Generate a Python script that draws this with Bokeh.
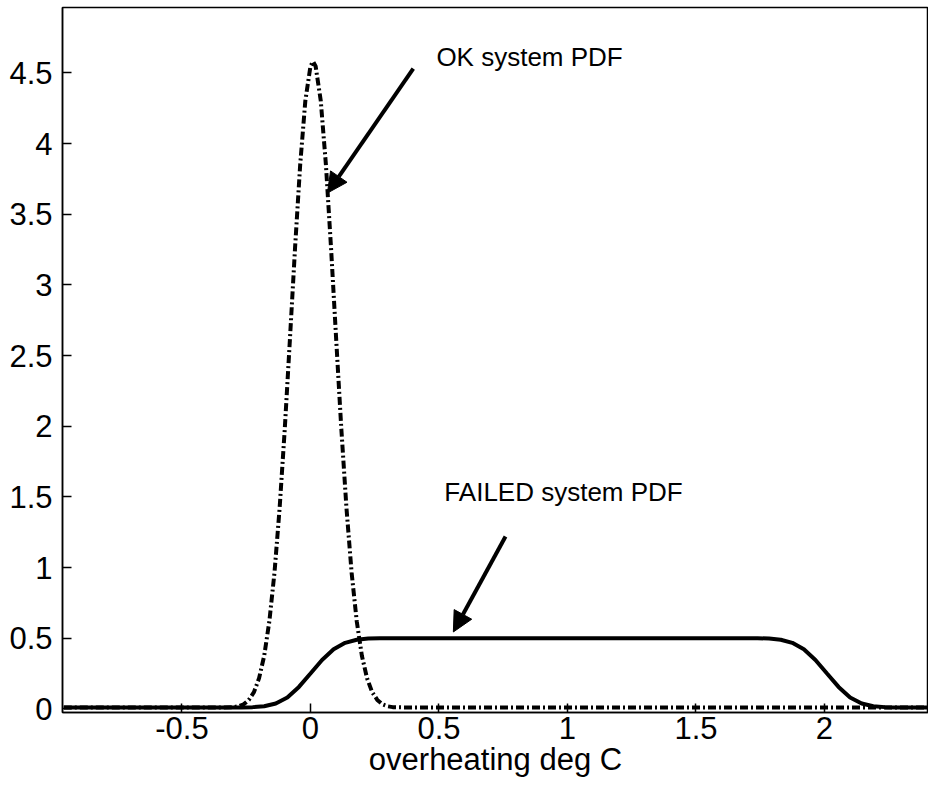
from bokeh.plotting import figure
from bokeh.models import FixedTicker, Range1d, Arrow, NormalHead, Label
from bokeh.embed import file_html
from bokeh.resources import INLINE

# OK system PDF
ok_x = [-0.96, -0.34, -0.30, -0.28, -0.26, -0.24, -0.22, -0.20, -0.18, -0.16, -0.14,
        -0.12, -0.10, -0.08, -0.06, -0.04, -0.02, 0.0, 0.01, 0.02, 0.04, 0.06,
        0.08, 0.10, 0.12, 0.14, 0.16, 0.18, 0.20, 0.22, 0.24, 0.26, 0.28,
        0.30, 0.32, 0.36, 2.46]
ok_y = [0.01, 0.01, 0.012, 0.018, 0.032, 0.063, 0.118, 0.217, 0.376, 0.620, 0.965,
        1.422, 1.982, 2.615, 3.263, 3.852, 4.303, 4.548, 4.58, 4.548, 4.303, 3.852,
        3.263, 2.615, 1.982, 1.422, 0.965, 0.620, 0.376, 0.217, 0.118, 0.063, 0.032,
        0.018, 0.012, 0.01, 0.01]

# FAILED system PDF
fail_x = [-0.96, -0.27, -0.225, -0.18, -0.135, -0.09, -0.045, 0.0, 0.045, 0.09,
          0.135, 0.18, 0.225, 0.27, 1.74, 1.785, 1.83, 1.875, 1.92, 1.965, 2.01,
          2.055, 2.10, 2.145, 2.19, 2.235, 2.28, 2.46]
fail_y = [0.01, 0.01, 0.012, 0.018, 0.038, 0.08, 0.155, 0.25, 0.346, 0.421,
          0.467, 0.489, 0.497, 0.5, 0.5, 0.497, 0.489, 0.467, 0.421, 0.346, 0.25,
          0.155, 0.08, 0.038, 0.018, 0.012, 0.01, 0.01]

x_ticks = [-0.5, 0.0, 0.5, 1.0, 1.5, 2.0]
x_tick_labels = ["-0.5", "0", "0.5", "1", "1.5", "2"]
y_ticks = [0.0, 0.5, 1.0, 1.5, 2.0, 2.5, 3.0, 3.5, 4.0, 4.5]
y_tick_labels = ["0", "0.5", "1", "1.5", "2", "2.5", "3", "3.5", "4", "4.5"]

x_label = "overheating deg C"
ok_label = "OK system PDF"
fail_label = "FAILED system PDF"

FONT = "Liberation Sans"

p = figure(width=928, height=779, output_backend="svg", toolbar_location=None,
           x_range=Range1d(-0.965, 2.405), y_range=Range1d(-0.026, 4.963),
           min_border_left=62, min_border_right=0, min_border_top=7,
           min_border_bottom=0)
p.grid.visible = False
p.outline_line_color = "black"
p.outline_line_width = 1.5
p.background_fill_color = "white"
p.border_fill_color = "white"

def style_axis(ax, ticks, labels):
    ax.ticker = FixedTicker(ticks=ticks)
    ax.major_label_overrides = {t: l for t, l in zip(ticks, labels)}
    ax.major_tick_in = 9
    ax.major_tick_out = 0
    ax.minor_tick_line_color = None
    ax.axis_line_color = "black"
    ax.axis_line_width = 1.5
    ax.major_tick_line_color = "black"
    ax.major_tick_line_width = 1.5
    ax.major_label_text_font = FONT
    ax.major_label_text_color = "black"
    ax.major_label_text_font_size = "31px"

style_axis(p.xaxis[0], x_ticks, x_tick_labels)
p.xaxis[0].major_label_standoff = 4
p.xaxis[0].axis_label = x_label
p.xaxis[0].axis_label_text_font = FONT
p.xaxis[0].axis_label_text_font_size = "31px"
p.xaxis[0].axis_label_text_font_style = "normal"
p.xaxis[0].axis_label_text_color = "black"
p.xaxis[0].axis_label_standoff = 0

style_axis(p.yaxis[0], y_ticks, y_tick_labels)
p.yaxis[0].major_label_standoff = 10

p.line(fail_x, fail_y, line_color="black", line_width=4)
p.line(ok_x, ok_y, line_color="black", line_width=4, line_dash="8 3 2 3")

p.add_layout(Arrow(end=NormalHead(size=20, fill_color="black", line_color="black"),
                   x_start=0.40, y_start=4.53, x_end=0.066, y_end=3.65,
                   line_width=4, line_color="black"))
p.add_layout(Arrow(end=NormalHead(size=20, fill_color="black", line_color="black"),
                   x_start=0.759, y_start=1.22, x_end=0.556, y_end=0.544,
                   line_width=4, line_color="black"))

p.add_layout(Label(x=0.49, y=4.61, text=ok_label, text_font=FONT,
                   text_font_size="26px", text_baseline="alphabetic",
                   text_color="black"))
p.add_layout(Label(x=0.521, y=1.536, text=fail_label, text_font=FONT,
                   text_font_size="26px", text_baseline="alphabetic",
                   text_color="black"))

open("out.html", "w").write(file_html(p, INLINE))
